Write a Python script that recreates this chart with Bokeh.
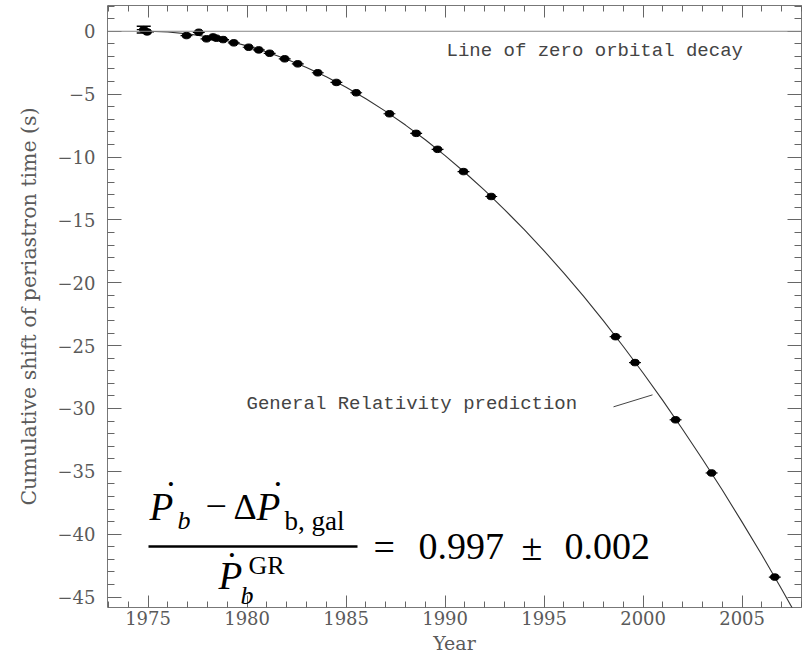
from bokeh.plotting import figure
from bokeh.models import (Range1d, LinearAxis, FixedTicker, Label, Span, Whisker,
                          TeeHead, ColumnDataSource)
from bokeh.embed import file_html
from bokeh.resources import INLINE

# ---------------- data ----------------
obs_year = [1974.78, 1974.95, 1976.94, 1977.56, 1977.95, 1978.28, 1978.45, 1978.79,
            1979.33, 1980.08, 1980.59, 1981.14, 1981.90, 1982.56, 1983.57, 1984.51,
            1985.51, 1987.19, 1988.54, 1989.62, 1990.93, 1992.33, 1998.61, 1999.59,
            2001.64, 2003.46, 2006.65]
obs_shift = [0.13, -0.05, -0.34, -0.08, -0.60, -0.45, -0.55, -0.66,
             -0.92, -1.27, -1.48, -1.75, -2.19, -2.59, -3.30, -4.07,
             -4.89, -6.56, -8.12, -9.39, -11.16, -13.14, -24.29, -26.35,
             -30.90, -35.13, -43.41]
obs_xerr = [0.35, 0.35, 0.3, 0.3, 0.3, 0.3, 0.3, 0.3,
            0.3, 0.3, 0.3, 0.3, 0.3, 0.3, 0.3, 0.3,
            0.3, 0.3, 0.3, 0.3, 0.3, 0.3, 0.3, 0.3,
            0.3, 0.3, 0.3]
# vertical error bars that are visible (first epoch)
verr_year = [1974.78]
verr_shift = [0.13]
verr_size = [0.27]

gr_year = [1974.6, 1975, 1976, 1977, 1978, 1979, 1980, 1981, 1982, 1983, 1984, 1985,
           1986, 1987, 1988, 1989, 1990, 1991, 1992, 1993, 1994, 1995, 1996, 1997,
           1998, 1999, 2000, 2001, 2002, 2003, 2004, 2005, 2006, 2007, 2008]
gr_shift = [0.0, 0.0, -0.06, -0.21, -0.44, -0.75, -1.16, -1.65, -2.22, -2.88, -3.62,
            -4.45, -5.37, -6.37, -7.46, -8.63, -9.89, -11.23, -12.66, -14.18, -15.78,
            -17.46, -19.24, -21.09, -23.04, -25.07, -27.18, -29.38, -31.67, -34.04,
            -36.49, -39.04, -41.66, -44.38, -47.18]

xtick_values = [1975, 1980, 1985, 1990, 1995, 2000, 2005]
xtick_labels = ["1975", "1980", "1985", "1990", "1995", "2000", "2005"]
ytick_values = [0, -5, -10, -15, -20, -25, -30, -35, -40, -45]
ytick_labels = ["0", "\u22125", "\u221210", "\u221215", "\u221220", "\u221225",
                "\u221230", "\u221235", "\u221240", "\u221245"]

x_label = "Year"
y_label = "Cumulative shift of periastron time (s)"

# ---------------- figure ----------------
XR = (1972.95, 2008.0)
YR = (-45.83, 2.05)
FL, FR, FT, FB = 107, 801, 5, 608  # frame edges in the page


def dx(px):
    return XR[0] + (px - FL) / (FR - FL) * (XR[1] - XR[0])


def dy(py):
    return YR[1] - (py - FT) / (FB - FT) * (YR[1] - YR[0])


p = figure(width=803, height=656, output_backend="svg", toolbar_location=None,
           x_range=Range1d(*XR), y_range=Range1d(*YR),
           x_axis_location=None, y_axis_location=None,
           min_border_left=FL, min_border_right=803 - FR,
           min_border_top=FT, min_border_bottom=656 - FB)
p.xgrid.visible = False
p.ygrid.visible = False
p.outline_line_color = "#777777"
p.outline_line_width = 1
p.background_fill_color = "white"
p.border_fill_color = "white"

TICK_FONT = "DejaVu Serif"
GRAY = "#5a5a5a"

xminor = [y for y in range(1972, 2009) if y % 5 != 0]
yminor = [v for v in range(-46, 3) if v % 5 != 0]


def make_axis(values, labels, minor, major_len, minor_len, show_labels):
    ax = LinearAxis(ticker=FixedTicker(ticks=values, minor_ticks=minor))
    ax.major_tick_in = major_len
    ax.major_tick_out = 0
    ax.minor_tick_in = minor_len
    ax.minor_tick_out = 0
    ax.major_tick_line_color = "#666666"
    ax.minor_tick_line_color = "#666666"
    ax.axis_line_color = None
    if show_labels:
        ax.major_label_overrides = dict(zip(values, labels))
        ax.major_label_text_font = TICK_FONT
        ax.major_label_text_font_size = "18px"
        ax.major_label_text_color = GRAY
    else:
        ax.major_label_text_font_size = "1px"
        ax.major_label_text_color = None
        ax.major_label_standoff = 0
    return ax


bottom = make_axis(xtick_values, xtick_labels, xminor, 12, 6, True)
bottom.major_label_standoff = 3
bottom.axis_label = x_label
bottom.axis_label_text_font = "DejaVu Serif"
bottom.axis_label_text_font_size = "19px"
bottom.axis_label_text_font_style = "normal"
bottom.axis_label_text_color = GRAY
bottom.axis_label_standoff = 4
p.add_layout(bottom, "below")

top = make_axis(xtick_values, xtick_labels, xminor, 12, 6, False)
p.add_layout(top, "above")

left = make_axis(ytick_values, ytick_labels, yminor, 14, 7, True)
left.major_label_standoff = 12
left.axis_label = y_label
left.axis_label_text_font = "DejaVu Serif"
left.axis_label_text_font_size = "20.5px"
left.axis_label_text_font_style = "normal"
left.axis_label_text_color = GRAY
left.axis_label_standoff = 14
p.add_layout(left, "left")

right = make_axis(ytick_values, ytick_labels, yminor, 14, 7, False)
p.add_layout(right, "right")

# zero-decay line
p.add_layout(Span(location=0, dimension="width", line_color="#888888", line_width=1))

# GR prediction curve
p.line(gr_year, gr_shift, line_color="#333333", line_width=1.1)

# observations
src = ColumnDataSource(dict(x=obs_year, y=obs_shift,
                            lo=[a - e for a, e in zip(obs_year, obs_xerr)],
                            hi=[a + e for a, e in zip(obs_year, obs_xerr)]))
p.add_layout(Whisker(source=src, base="y", lower="lo", upper="hi", dimension="width",
                     line_color="black", line_width=1.2, upper_head=None, lower_head=None))
vsrc = ColumnDataSource(dict(x=verr_year,
                             lo=[s - e for s, e in zip(verr_shift, verr_size)],
                             hi=[s + e for s, e in zip(verr_shift, verr_size)]))
p.add_layout(Whisker(source=vsrc, base="x", lower="lo", upper="hi", dimension="height",
                     line_color="black", line_width=1.2,
                     upper_head=TeeHead(size=14, line_color="black", line_width=1.5),
                     lower_head=TeeHead(size=14, line_color="black", line_width=1.5)))
p.ellipse("x", "y", source=src, width=8.5, height=6.5, width_units="screen",
          height_units="screen", fill_color="black", line_color="black")

# annotations
ANN = "Liberation Mono"
p.add_layout(Label(x=dx(446), y=dy(51), text="Line of zero orbital decay",
                   text_font=ANN, text_font_size="19px", text_color="#444444",
                   text_baseline="alphabetic", text_align="left"))
p.add_layout(Label(x=dx(246), y=dy(404), text="General Relativity prediction",
                   text_font=ANN, text_font_size="19px", text_color="#444444",
                   text_baseline="alphabetic", text_align="left"))
p.segment(x0=[dx(613)], y0=[dy(407)], x1=[dx(652)], y1=[dy(395)],
          line_color="#444444", line_width=1)

# equation
SERIF = "Liberation Serif"


def lab(px, py, text, size, style="normal"):
    p.add_layout(Label(x=dx(px), y=dy(py), text=text, text_font=SERIF,
                       text_font_size=f"{size}px", text_font_style=style,
                       text_color="black", text_baseline="alphabetic",
                       text_align="left"))


# numerator
lab(149, 507, "P", 39, "italic")
lab(164, 494, "\u02d9", 38)
lab(177, 521, "b", 26, "italic")
lab(205, 507, "\u2212", 38)
lab(233, 507, "\u0394", 36)
lab(256, 507, "P", 39, "italic")
lab(271, 494, "\u02d9", 38)
lab(284, 521, "b, gal", 27)
# fraction bar
p.segment(x0=[dx(148)], y0=[dy(547)], x1=[dx(357)], y1=[dy(547)],
          line_color="black", line_width=2.5)
# denominator
lab(218, 576, "P", 39, "italic")
lab(225, 565, "\u02d9", 38)
lab(240, 596, "b", 26, "italic")
lab(248, 566, "GR", 26)
# right-hand side
lab(373, 547, "=", 38)
lab(418, 547, "0.997", 38)
lab(521, 547, "\u00b1", 38)
lab(564, 547, "0.002", 38)

open("out.html", "w").write(file_html(p, INLINE))
